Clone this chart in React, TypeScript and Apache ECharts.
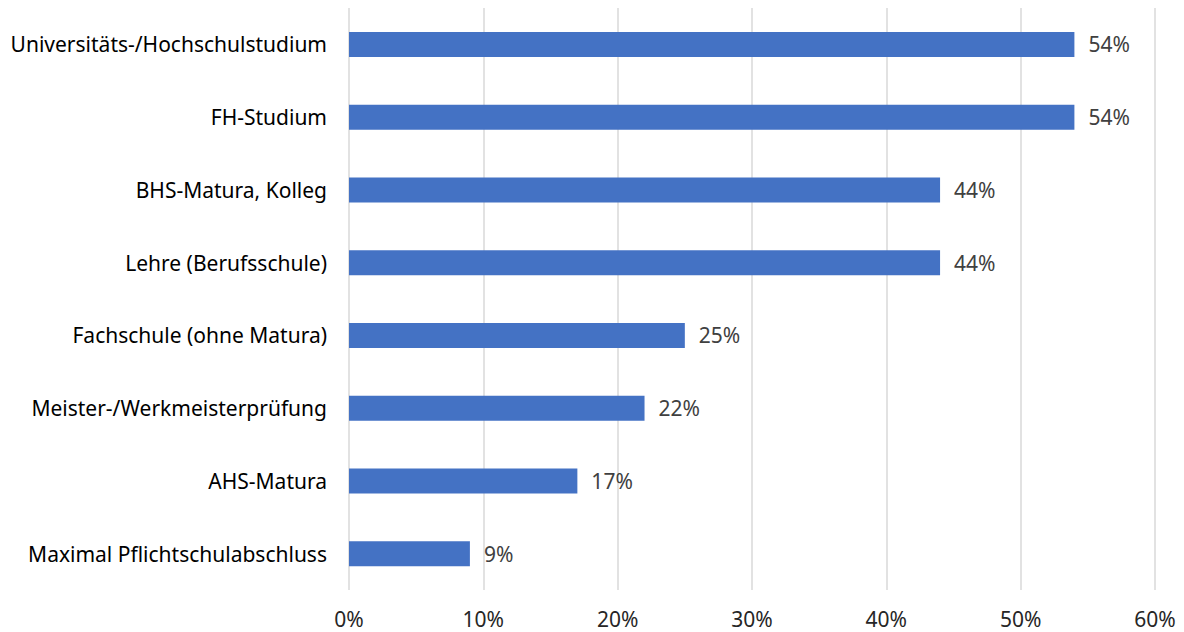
import React, { useEffect, useRef } from "react";
import * as echarts from "echarts";

const categories = [
  "Universitäts-/Hochschulstudium",
  "FH-Studium",
  "BHS-Matura, Kolleg",
  "Lehre (Berufsschule)",
  "Fachschule (ohne Matura)",
  "Meister-/Werkmeisterprüfung",
  "AHS-Matura",
  "Maximal Pflichtschulabschluss",
];
const values = [54, 54, 44, 44, 25, 22, 17, 9];
const xTicks = [0, 10, 20, 30, 40, 50, 60];

const FONT = "'Noto Sans', 'Open Sans', sans-serif";

export default function App() {
  const ref = useRef<HTMLDivElement>(null);
  useEffect(() => {
    if (!ref.current) return;
    const chart = echarts.init(ref.current, null, { renderer: "svg" });
    chart.setOption({
      animation: false,
      grid: { left: 349, right: 29, top: 8, bottom: 42, containLabel: false },
      xAxis: {
        type: "value",
        min: xTicks[0],
        max: xTicks[xTicks.length - 1],
        interval: 10,
        axisLine: { show: false },
        axisTick: { show: false },
        splitLine: { show: true, lineStyle: { color: "#d9d9d9", width: 1.5 } },
        axisLabel: {
          formatter: (v: number) => v + "%",
          color: "#262626",
          fontSize: 21,
          fontFamily: FONT,
          margin: 18,
        },
      },
      yAxis: {
        type: "category",
        data: categories,
        inverse: true,
        axisLine: { show: false },
        axisTick: { show: false },
        axisLabel: {
          color: "#000000",
          fontSize: 21,
          fontFamily: FONT,
          margin: 22,
        },
      },
      series: [
        {
          type: "bar",
          data: values,
          barWidth: 25,
          itemStyle: { color: "#4472C4" },
          label: {
            show: true,
            position: "right",
            distance: 14,
            formatter: (p: any) => p.value + "%",
            color: "#404040",
            fontSize: 21,
            fontFamily: FONT,
          },
        },
      ],
    });
    return () => chart.dispose();
  }, []);
  return <div ref={ref} style={{ width: 1184, height: 632, position: "absolute", left: 0, top: 0 }} />;
}
